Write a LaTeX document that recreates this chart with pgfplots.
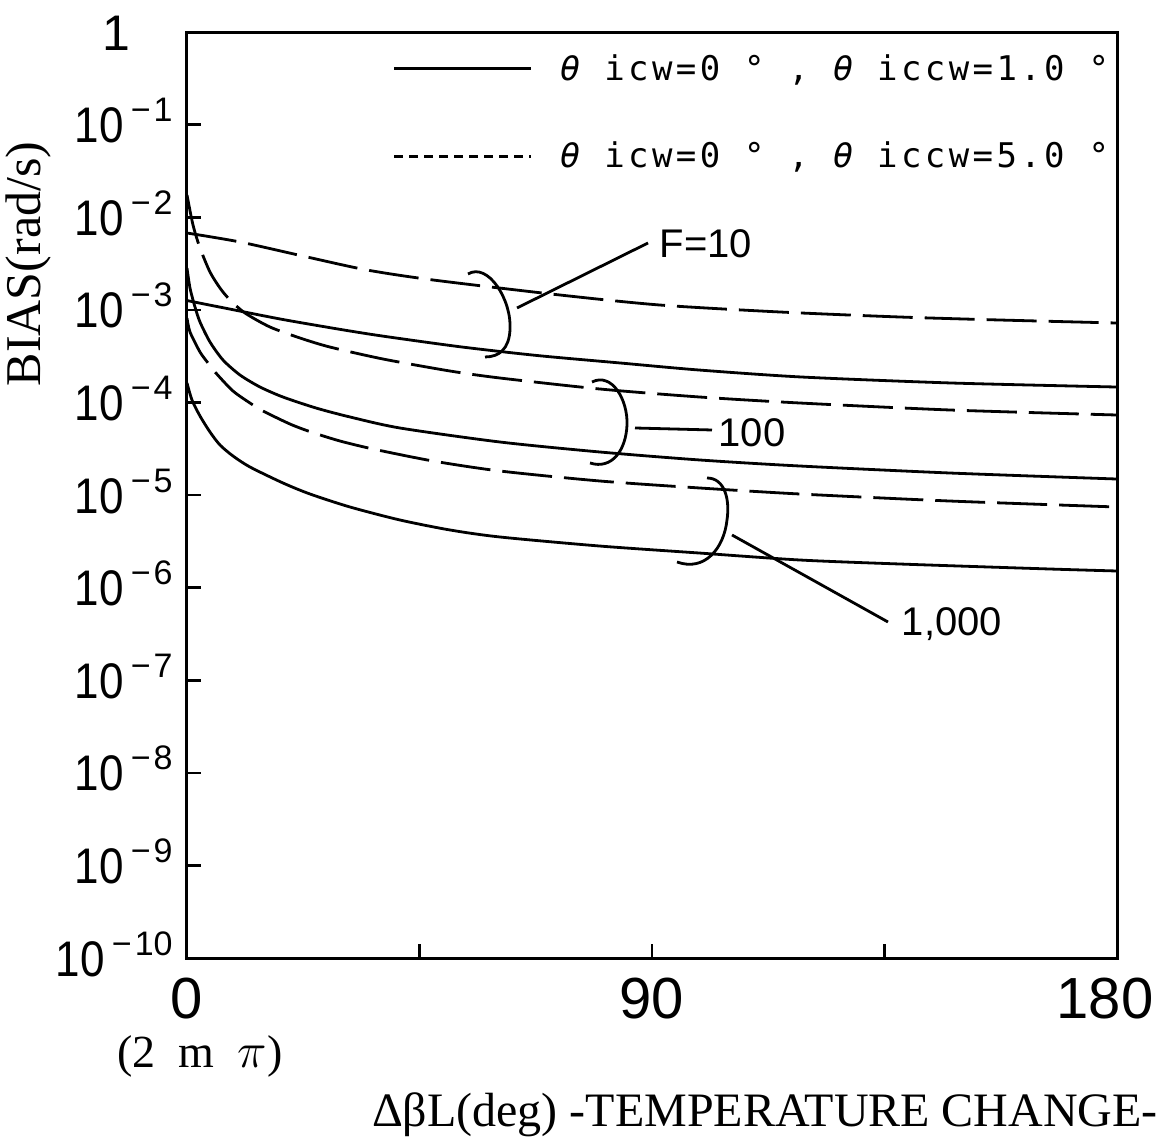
\documentclass[border=0pt]{standalone}
\usepackage{fontspec}
\usepackage{graphicx}
\setmainfont{Liberation Serif}
\newfontfamily\tickfont{Liberation Sans}
\newfontfamily\legfont[LetterSpace=10]{DejaVu Sans Mono}
\usepackage{pgfplots}
\pgfplotsset{compat=1.18}
\newcommand{\yl}[1]{\scalebox{0.88}[1]{10}\kern3.5pt\raisebox{10.5pt}{\fontsize{17}{17}\selectfont −\kern1.5pt#1}}
\newcommand{\lth}{{\itshape θ}}
\begin{document}
\begin{tikzpicture}
\begin{axis}[
  at={(0,0)}, anchor=south west,
  width=465pt, height=463pt, scale only axis,
  ymode=log, xmin=0, xmax=180, ymin=1e-10, ymax=1,
  axis line style={line width=1.5pt},
  xtick={0,45,90,135,180},
  xticklabels={0,,90,,\hspace*{-12pt}180},
  ytick={1e-10,1e-9,1e-8,1e-7,1e-6,1e-5,1e-4,1e-3,1e-2,1e-1,1},
  yticklabels={\yl{10},\yl{9},\yl{8},\yl{7},\yl{6},\yl{5},\yl{4},\yl{3},\yl{2},\yl{1},1\hspace*{21pt}},
  xminorticks=false, yminorticks=false,
  tick align=inside, xtick pos=bottom, ytick pos=left,
  major tick length=7pt,
  tick style={line width=1.3pt, black},
  xticklabel style={font=\tickfont\fontsize{29}{31}\selectfont, inner sep=0pt, anchor=north, yshift=-10pt},
  yticklabel style={font=\tickfont\fontsize{25}{27}\selectfont, inner sep=0pt, anchor=base east, xshift=-7pt, yshift=-9pt},
  xlabel={ΔβL(deg) -TEMPERATURE CHANGE-},
  xlabel style={font=\fontsize{24}{27}\selectfont, at={(axis description cs:0.6215,-0.1695)}, anchor=center},
  ylabel={BIAS(rad/s)},
  ylabel style={font=\fontsize{25}{28}\selectfont, at={(axis description cs:-0.170,0.7495)}, anchor=center},
  legend image code/.code={\draw[#1] (0pt,0pt) -- (68.5pt,0pt);},
  legend style={at={(axis description cs:0.2215,0.976)}, anchor=north west,
    draw=none, fill=none, inner sep=0pt, outer sep=0pt,
    font=\legfont\fontsize{17}{20}\selectfont,
    nodes={inner sep=0pt}, cells={anchor=west}, row sep=29.5pt,
    /tikz/every odd column/.append style={column sep=13.5pt}},
  every axis plot/.append style={line width=1.4pt, black, smooth, tension=0.45},
]
\addlegendimage{line width=1.5pt, black}
\addlegendentry{\lth\ icw=0 ° , \lth\ iccw=1.0 °}
\addlegendimage{line width=1.5pt, black, dash pattern=on 4.5pt off 3pt}
\addlegendentry{\lth\ icw=0 ° , \lth\ iccw=5.0 °}

% F=10 solid
\addplot[forget plot] coordinates {
 (0,1.259e-3) (9,1.0e-3) (18.6,7.85e-4) (30,6.10e-4) (38,5.19e-4) (53,3.98e-4)
 (68,3.20e-4) (84,2.66e-4) (99,2.24e-4) (119,1.88e-4) (148,1.62e-4) (180,1.466e-4)};
% F=10 dashed
\addplot[forget plot, dash pattern=on 25pt off 6pt] coordinates {
 (0,6.75e-3) (10.26,5.40e-3) (23.23,3.72e-3) (34.84,2.69e-3) (47.61,2.10e-3)
 (72.19,1.445e-3) (91.55,1.126e-3) (114.77,9.47e-4) (138,8.36e-4) (157.35,7.76e-4) (180,7.20e-4)};
% F=100 dashed
\addplot[forget plot, dash pattern=on 25pt off 6pt] coordinates {
 (0,1.737e-2) (1.161,8.24e-3) (2.516,4.65e-3) (4.452,2.559e-3) (6.387,1.719e-3)
 (8.323,1.276e-3) (11.23,9.23e-4) (16.06,6.52e-4) (21.87,4.96e-4) (27.68,3.96e-4)
 (37.94,2.942e-4) (50.90,2.183e-4) (60.58,1.834e-4) (79.94,1.395e-4) (99.29,1.143e-4)
 (118.65,9.85e-5) (147.68,8.28e-5) (180,7.31e-5)};
% F=100 solid
\addplot[forget plot] coordinates {
 (0,2.827e-3) (0.581,1.719e-3) (1.548,1.072e-3) (2.516,7.38e-4) (4.452,4.49e-4)
 (6.968,2.870e-4) (10.26,1.976e-4) (14.13,1.467e-4) (18.58,1.143e-4) (24.97,8.70e-5)
 (31.55,6.96e-5) (41.23,5.29e-5) (60.58,3.735e-5) (79.94,2.913e-5) (99.29,2.388e-5)
 (118.65,2.056e-5) (147.68,1.728e-5) (180,1.488e-5)};
% F=1000 dashed
\addplot[forget plot, dash pattern=on 25pt off 6pt] coordinates {
 (0,8.15e-4) (0.581,5.76e-4) (2.516,3.502e-4) (4.065,2.663e-4) (5.419,2.130e-4)
 (8.903,1.328e-4) (12.77,9.37e-5) (14.71,8.07e-5) (19.94,5.84e-5) (24.0,4.79e-5)
 (29.61,3.83e-5) (36.0,3.14e-5) (47.61,2.329e-5) (60.58,1.816e-5) (79.94,1.416e-5)
 (99.29,1.190e-5) (118.65,1.025e-5) (147.68,8.61e-6) (180,7.42e-6)};
% F=1000 solid
\addplot[forget plot] coordinates {
 (0,1.620e-4) (0.968,1.061e-4) (2.516,7.13e-5) (4.452,4.79e-5) (6.387,3.467e-5)
 (8.903,2.638e-5) (12.19,2.006e-5) (18.58,1.348e-5) (23.81,1.025e-5) (31.55,7.42e-6)
 (41.23,5.37e-6) (50.90,4.19e-6) (60.58,3.52e-6) (79.94,2.81e-6) (99.29,2.36e-6)
 (118.65,1.986e-6) (138.0,1.798e-6) (167.03,1.588e-6) (180,1.511e-6)};
\end{axis}
\begin{scope}[shift={(-93.5pt,479pt)}, x=0.5pt, y=-0.5pt, line width=1.4pt]
 % F=10 bracket and pointer
 \draw (468,274) .. controls (488,262) and (512,300) .. (510,330) .. controls (509,348) and (500,357) .. (485,357);
 \draw (517,308) -- (648,243);
 \node[font=\tickfont\fontsize{20}{22}\selectfont] at (706,244) {F=10};
 % F=100
 \draw (592,382) .. controls (612,372) and (628,400) .. (627,425) .. controls (626,450) and (612,470) .. (590,463);
 \draw (635,428) -- (712,430);
 \node[font=\tickfont\fontsize{20}{22}\selectfont] at (752,433) {100};
 % F=1000
 \draw (707,478) .. controls (725,478) and (730,500) .. (727,520) .. controls (724,548) and (705,572) .. (677,562);
 \draw (732,535) -- (888,622);
 \node[font=\tickfont\fontsize{20}{22}\selectfont] at (952,624) {1,000};
 \node[font=\fontsize{23}{25}\selectfont, inner sep=0pt] at (200,1056) {(2\ \ m\ \ $\pi$)};
\end{scope}
\pgfresetboundingbox
\useasboundingbox (-93.5pt,-91.5pt) rectangle (493.5pt,479pt);
\end{tikzpicture}
\end{document}
